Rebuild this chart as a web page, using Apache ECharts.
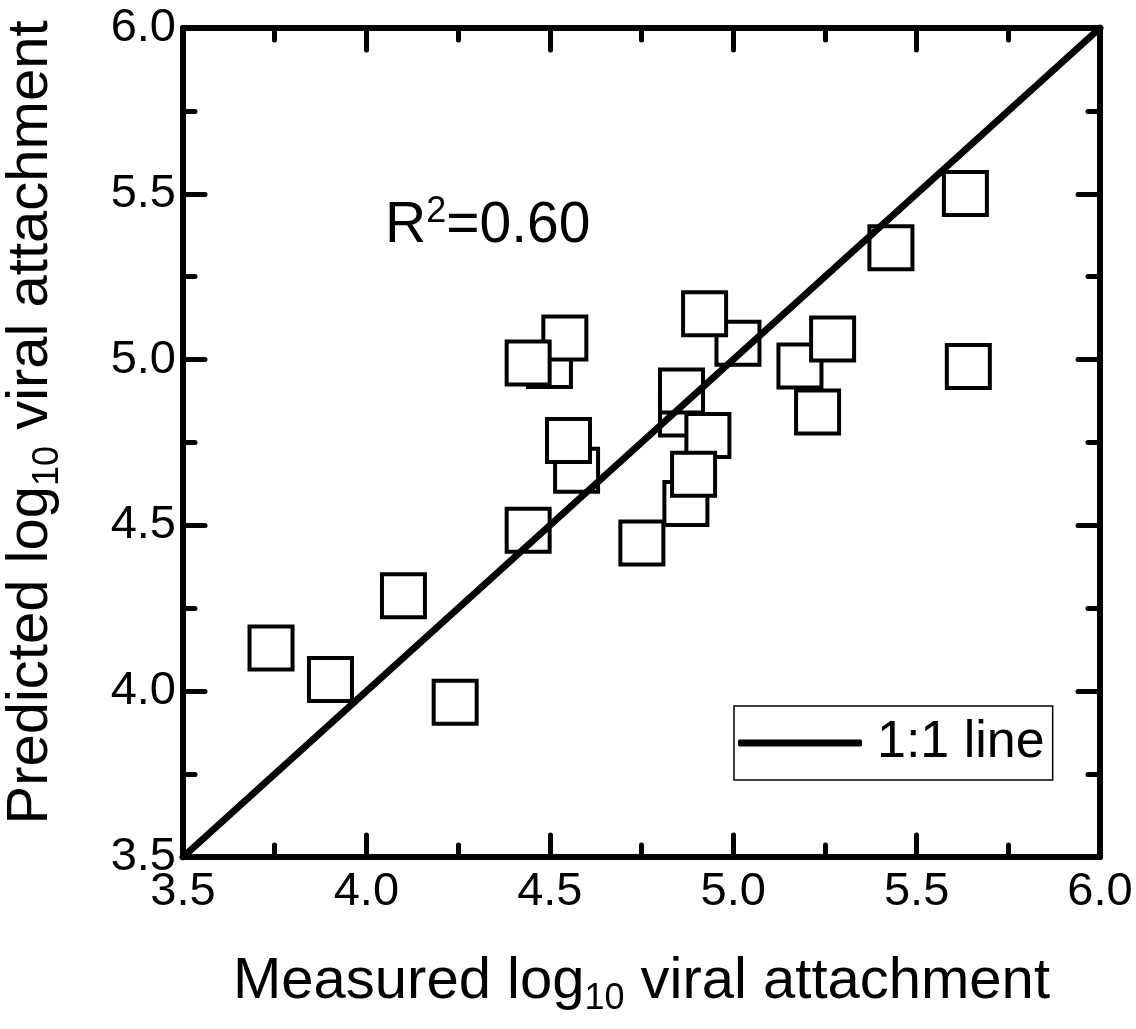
<!DOCTYPE html>
<html>
<head>
<meta charset="utf-8">
<script src="https://cdn.jsdelivr.net/npm/echarts@6/dist/echarts.min.js"></script>
<style>
html,body{margin:0;padding:0;background:#fff;}
#chart{width:1136px;height:1029px;}
</style>
</head>
<body>
<div id="chart"></div>
<script>
// Measured vs predicted log10 viral attachment (order = drawing order, later on top)
var measured  = [3.740, 3.902, 4.101, 4.242, 4.499, 4.541, 4.441, 4.573, 4.551, 4.441, 5.013, 4.922, 4.859, 4.859, 4.871, 4.931, 4.892, 4.751, 5.182, 5.271, 5.230, 5.641, 5.633, 5.430];
var predicted = [4.130, 4.035, 4.288, 3.967, 4.982, 5.065, 4.990, 4.666, 4.756, 4.485, 5.049, 5.138, 4.836, 4.905, 4.566, 4.771, 4.654, 4.447, 4.981, 5.062, 4.842, 4.979, 5.501, 5.337];
var oneToOneX = [3.5, 6.0];
var oneToOneY = [3.5, 6.0];
var axisMin = 3.5, axisMax = 6.0, axisStep = 0.5;
var xTitle = 'Measured log{sub|10} viral attachment';
var yTitle = 'Predicted log{sub|10} viral attachment';
var r2Label = 'R{sup|2}=0.60';
var lineLabel = '1:1 line';

var FONT = "'Liberation Sans', Arial, sans-serif";
var points = measured.map(function (m, i) { return [m, predicted[i]]; });
var diag = oneToOneX.map(function (x, i) { return [x, oneToOneY[i]]; });

function axisCommon(pos, showLabel, margin) {
  return {
    type: 'value', position: pos, min: axisMin, max: axisMax, interval: axisStep,
    axisLine: { show: true, onZero: false, lineStyle: { color: '#000', width: 6, cap: 'round' } },
    axisTick: { show: true, inside: true, length: 22, lineStyle: { color: '#000', width: 5, cap: 'round' } },
    minorTick: { show: true, splitNumber: 2, length: 12, lineStyle: { color: '#000', width: 5, cap: 'round' } },
    splitLine: { show: false },
    axisLabel: { show: showLabel, color: '#000', fontSize: 47, fontFamily: FONT, margin: margin,
      formatter: function (v) { return v.toFixed(1); } }
  };
}

var xBottom = axisCommon('bottom', true, 12);
xBottom.name = xTitle;
xBottom.nameLocation = 'middle';
xBottom.nameGap = 90;
xBottom.nameTextStyle = { color: '#000', fontSize: 58, fontFamily: FONT,
  rich: { sub: { fontSize: 36, fontFamily: FONT, color: '#000', padding: [34, 0, 0, 0] } } };
var xTop = axisCommon('top', false, 12);
var yLeft = axisCommon('left', true, 7);
yLeft.name = yTitle;
yLeft.nameLocation = 'middle';
yLeft.nameGap = 117;
yLeft.nameRotate = 90;
yLeft.nameTextStyle = { color: '#000', fontSize: 58, fontFamily: FONT, padding: [0, 0, 0, 40],
  rich: { sub: { fontSize: 36, fontFamily: FONT, color: '#000', padding: [34, 0, 0, 0] } } };
var yRight = axisCommon('right', false, 12);

var chart = echarts.init(document.getElementById('chart'), null, { renderer: 'canvas' });
chart.setOption({
  backgroundColor: '#fff',
  animation: false,
  grid: { left: 183, right: 36, top: 28, bottom: 172, containLabel: false, outerBoundsMode: 'none' },
  xAxis: [xBottom, xTop],
  yAxis: [yLeft, yRight],
  legend: {
    data: [{ name: lineLabel, icon: 'roundRect' }],
    left: 734, top: 706,
    padding: [11, 8, 11, 4],
    borderColor: '#000', borderWidth: 1.5,
    itemWidth: 124, itemHeight: 7, itemGap: 0,
    textStyle: { color: '#000', fontSize: 52, fontFamily: FONT, padding: [0, 0, 0, 10] }
  },
  graphic: [{
    type: 'text', left: 385, top: 194, z: 10,
    style: { text: r2Label, fill: '#000', font: '57px ' + FONT,
      rich: { sup: { fontSize: 36, fontFamily: FONT, fill: '#000', padding: [0, 0, 28, 0] } } }
  }],
  series: [
    {
      type: 'scatter', xAxisIndex: 0, yAxisIndex: 0, data: points,
      symbol: 'rect', symbolSize: 43, z: 2,
      itemStyle: { color: '#fff', borderColor: '#000', borderWidth: 4, opacity: 1 }
    },
    {
      type: 'line', name: lineLabel, xAxisIndex: 0, yAxisIndex: 0, data: diag,
      symbol: 'none', z: 5,
      lineStyle: { color: '#000', width: 7, cap: 'round' },
      itemStyle: { color: '#000' }
    }
  ]
});
</script>
</body>
</html>
